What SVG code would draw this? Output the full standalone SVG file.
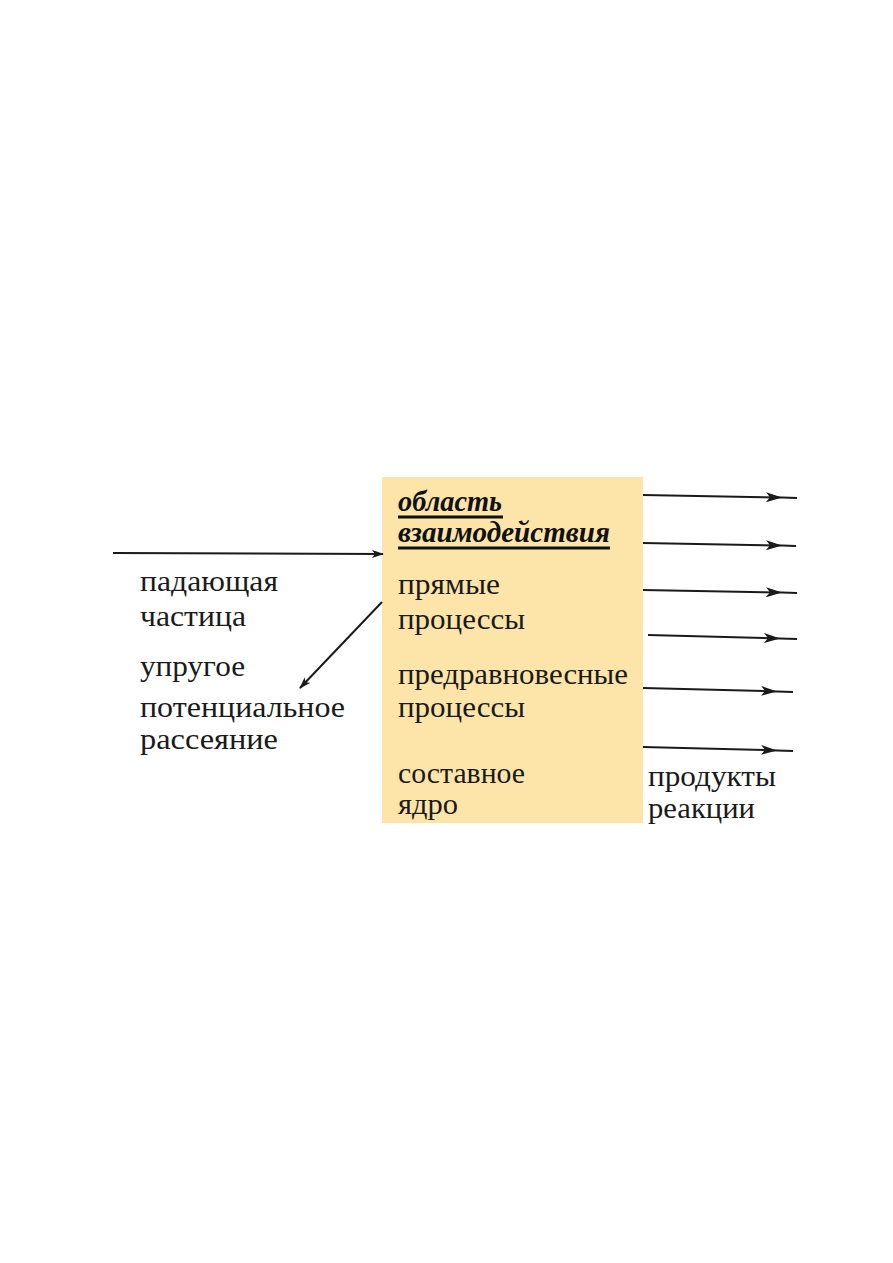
<svg xmlns="http://www.w3.org/2000/svg" width="893" height="1263" viewBox="0 0 893 1263">
<defs>
<style>
.t{font-family:"Liberation Serif","Times New Roman",serif;font-size:30px;fill:#1a1a1a}
.h{font-family:"Liberation Serif","Times New Roman",serif;font-size:30px;font-weight:bold;font-style:italic;fill:#111}
.ln{stroke:#1a1a1a;stroke-width:2;fill:none}
.ul{stroke:#111;stroke-width:3}
</style>
<marker id="ah" viewBox="0 0 12 8" refX="11" refY="4" markerWidth="12" markerHeight="8" markerUnits="userSpaceOnUse" orient="auto">
<path d="M0 0 L12 4 L0 8 L3 4 Z" fill="#1a1a1a"/>
</marker>
<marker id="am" viewBox="0 0 16 10" refX="16" refY="5" markerWidth="16" markerHeight="10" markerUnits="userSpaceOnUse" orient="auto">
<path d="M0 0 L16 5 L0 10 L4 5 Z" fill="#1a1a1a"/>
</marker>
</defs>
<rect width="893" height="1263" fill="#fff"/>
<g id="region">
<rect x="382" y="477" width="261" height="346" fill="#fde5aa"/>
<text class="h" x="398" y="511" textLength="104" lengthAdjust="spacingAndGlyphs">область</text>
<line class="ul" x1="398" y1="517" x2="503" y2="517"/>
<text class="h" x="398" y="542" textLength="212" lengthAdjust="spacingAndGlyphs">взаимодействия</text>
<line class="ul" x1="398" y1="548" x2="610" y2="548"/>
</g>
<g id="direct">
<text class="t" x="398" y="594" textLength="102" lengthAdjust="spacingAndGlyphs">прямые</text>
<text class="t" x="398" y="629" textLength="127" lengthAdjust="spacingAndGlyphs">процессы</text>
</g>
<g id="preequilibrium">
<text class="t" x="398" y="684" textLength="230" lengthAdjust="spacingAndGlyphs">предравновесные</text>
<text class="t" x="398" y="717" textLength="127" lengthAdjust="spacingAndGlyphs">процессы</text>
</g>
<g id="compound">
<text class="t" x="398" y="783" textLength="127" lengthAdjust="spacingAndGlyphs">составное</text>
<text class="t" x="398" y="814" textLength="60" lengthAdjust="spacingAndGlyphs">ядро</text>
</g>
<g id="incident">
<text class="t" x="140" y="591" textLength="138" lengthAdjust="spacingAndGlyphs">падающая</text>
<text class="t" x="140" y="626" textLength="106" lengthAdjust="spacingAndGlyphs">частица</text>
</g>
<g id="elastic">
<text class="t" x="140" y="676" textLength="105" lengthAdjust="spacingAndGlyphs">упругое</text>
<text class="t" x="140" y="717" textLength="205" lengthAdjust="spacingAndGlyphs">потенциальное</text>
<text class="t" x="140" y="749" textLength="138" lengthAdjust="spacingAndGlyphs">рассеяние</text>
</g>
<g id="products">
<text class="t" x="648" y="786" textLength="128" lengthAdjust="spacingAndGlyphs">продукты</text>
<text class="t" x="648" y="818" textLength="107" lengthAdjust="spacingAndGlyphs">реакции</text>
</g>
<g id="connectors">
<path class="ln" d="M113 553 L383 554" marker-end="url(#ah)"/>
<path class="ln" d="M382 602 L300 688" marker-end="url(#ah)"/>
<path class="ln" d="M643 495 L782 497.6 L797 498" marker-mid="url(#am)"/>
<path class="ln" d="M643 543 L782 545.6 L796 546" marker-mid="url(#am)"/>
<path class="ln" d="M643 590 L782 592.6 L797 593" marker-mid="url(#am)"/>
<path class="ln" d="M648 635 L780 638.5 L797 639" marker-mid="url(#am)"/>
<path class="ln" d="M643 688 L777 691.4 L793 692" marker-mid="url(#am)"/>
<path class="ln" d="M643 747 L777 750.4 L793 751" marker-mid="url(#am)"/>
</g>
</svg>
